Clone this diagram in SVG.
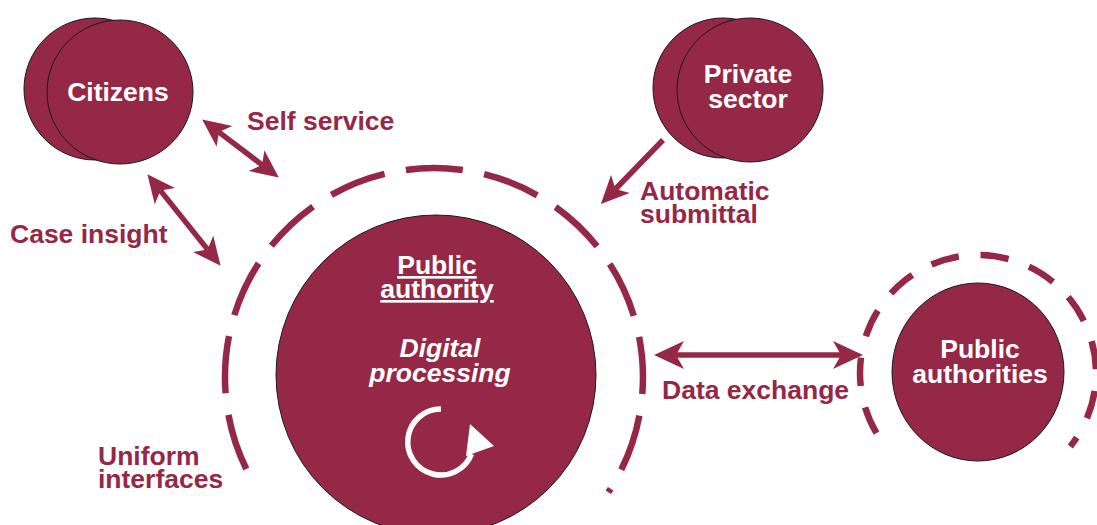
<svg xmlns="http://www.w3.org/2000/svg" width="1097" height="525" viewBox="0 0 1097 525">
<style>
.node{fill:#952847;stroke:#1a1a1a;stroke-width:1}
.ring{fill:none;stroke:#952847;stroke-width:6.5}
.lbl{font-family:"Liberation Sans",Arial,sans-serif;font-weight:bold;font-size:26.5px;fill:#952847}
.wt{font-family:"Liberation Sans",Arial,sans-serif;font-weight:bold;font-size:26.5px;fill:#ffffff;text-anchor:middle}
.shaft{stroke:#952847;stroke-width:5.5;fill:none}
</style>
<defs>
<marker id="ah" markerUnits="userSpaceOnUse" viewBox="-8 -14 30 28" refX="0" refY="0" markerWidth="30" markerHeight="28" orient="auto-start-reverse">
<path d="M21,0 L-7,-13 L0,0 L-7,13 Z" fill="#952847"/>
</marker>
<marker id="ahL" markerUnits="userSpaceOnUse" viewBox="-9 -15 32 30" refX="0" refY="0" markerWidth="32" markerHeight="30" orient="auto-start-reverse">
<path d="M22,0 L-8,-14 L0,0 L-8,14 Z" fill="#952847"/>
</marker>
</defs>

<g id="ring-main">
<path class="ring" d="M246.3,469.0 A209,209 0 1 1 608.3,492.3" stroke-dasharray="57.3 21.7"/>
</g>
<g id="ring-authorities">
<path class="ring" d="M876.5,433.2 A118,118 0 1 1 1070.3,446.5" stroke-dasharray="28.4 21.75"/>
</g>

<g id="citizens">
<ellipse class="node" cx="95" cy="89" rx="71" ry="71"/>
<ellipse class="node" cx="120" cy="92" rx="73" ry="72"/>
<text class="wt" x="118" y="101">Citizens</text>
</g>

<g id="private-sector">
<ellipse class="node" cx="723" cy="88" rx="70" ry="70"/>
<ellipse class="node" cx="750" cy="90" rx="73" ry="72"/>
<text class="wt" x="748" y="83">Private</text>
<text class="wt" x="748" y="108">sector</text>
</g>

<g id="public-authority">
<ellipse class="node" cx="436" cy="375" rx="160" ry="160"/>
<text class="wt" x="437" y="274" text-decoration="underline">Public</text>
<text class="wt" x="437" y="298" text-decoration="underline">authority</text>
<text class="wt" x="440" y="357" font-style="italic">Digital</text>
<text class="wt" x="440" y="382" font-style="italic">processing</text>
<path d="M441,409 A33,33 0 1 0 471.5,454" fill="none" stroke="#ffffff" stroke-width="5.5"/>
<polygon points="470,424 494,446 466,456" fill="#ffffff"/>
</g>

<g id="public-authorities">
<ellipse class="node" cx="978" cy="372" rx="86" ry="89"/>
<text class="wt" x="980" y="358">Public</text>
<text class="wt" x="980" y="383">authorities</text>
</g>

<g id="connectors">
<line class="shaft" x1="218.9" y1="132.1" x2="262.1" y2="164.9" marker-start="url(#ah)" marker-end="url(#ah)"/>
<line class="shaft" x1="160.5" y1="190.6" x2="207.5" y2="249.4" marker-start="url(#ah)" marker-end="url(#ah)"/>
<line class="shaft" x1="663" y1="140" x2="615.5" y2="189" marker-end="url(#ah)"/>
<line class="shaft" x1="676" y1="355" x2="841" y2="355" stroke-width="6" marker-start="url(#ahL)" marker-end="url(#ahL)"/>
</g>

<g id="labels">
<text class="lbl" x="247" y="130">Self service</text>
<text class="lbl" x="10" y="243">Case insight</text>
<text class="lbl" x="640" y="200">Automatic</text>
<text class="lbl" x="640" y="223">submittal</text>
<text class="lbl" x="662" y="399">Data exchange</text>
<text class="lbl" x="98" y="465">Uniform</text>
<text class="lbl" x="98" y="488">interfaces</text>
</g>
</svg>
